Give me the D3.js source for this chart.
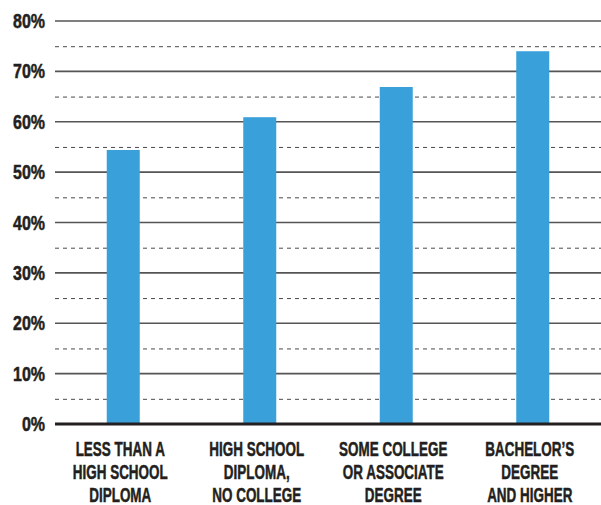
<!DOCTYPE html>
<html>
<head>
<meta charset="utf-8">
<script src="https://cdn.jsdelivr.net/npm/d3@7"></script>
<style>
  html, body { margin: 0; padding: 0; background: #fff; }
  svg { display: block; }
  .lbl { font-family: "Liberation Sans", Arial, sans-serif; font-weight: bold; fill: #231f20; stroke: #231f20; stroke-width: 0.5px; }
</style>
</head>
<body>
<svg id="chart" width="601" height="505"></svg>
<script>
// Share by education level
const categories = [
  ["LESS THAN A", "HIGH SCHOOL", "DIPLOMA"],
  ["HIGH SCHOOL", "DIPLOMA,", "NO COLLEGE"],
  ["SOME COLLEGE", "OR ASSOCIATE", "DEGREE"],
  ["BACHELOR\u2019S", "DEGREE", "AND HIGHER"]
];
const values = [54.4, 60.9, 66.9, 74.0];
const majorTicks = [0, 10, 20, 30, 40, 50, 60, 70, 80];
const minorTicks = [5, 15, 25, 35, 45, 55, 65, 75];

const svg = d3.select("#chart");
const plotLeft = 55, plotRight = 601, plotTop = 21, plotBottom = 424;

const x = d3.scaleBand().domain(d3.range(categories.length)).range([plotLeft, plotRight]).padding(0);
const y = d3.scaleLinear().domain([0, 80]).range([plotBottom, plotTop]);
const barW = 33;

// dashed half-step lines
svg.append("g").selectAll("line").data(minorTicks).join("line")
  .attr("x1", plotLeft).attr("x2", plotRight)
  .attr("y1", d => y(d) + 0.5).attr("y2", d => y(d) + 0.5)
  .attr("stroke", "#4a4a4a").attr("stroke-width", 1)
  .attr("stroke-dasharray", "4,4");

// solid major lines
svg.append("g").selectAll("line").data(majorTicks.filter(d => d > 0)).join("line")
  .attr("x1", plotLeft).attr("x2", plotRight)
  .attr("y1", d => y(d)).attr("y2", d => y(d))
  .attr("stroke", "#555").attr("stroke-width", 1.6);

// bars
svg.append("g").selectAll("rect").data(values).join("rect")
  .attr("x", (d, i) => x(i) + x.bandwidth() / 2 - barW / 2)
  .attr("width", barW)
  .attr("y", d => y(d))
  .attr("height", d => y(0) - y(d))
  .attr("fill", "#3aa0da");

// baseline
svg.append("line")
  .attr("x1", plotLeft).attr("x2", plotRight)
  .attr("y1", y(0)).attr("y2", y(0))
  .attr("stroke", "#231f20").attr("stroke-width", 3);

// y labels, set in a condensed style
svg.append("g").selectAll("text").data(majorTicks).join("text")
  .attr("class", "lbl")
  .attr("text-anchor", "end")
  .style("font-size", "19.5px")
  .attr("transform", d => `translate(${plotLeft - 10},${y(d)}) scale(0.82,1)`)
  .attr("dy", "0.36em")
  .text(d => d + "%");

// category labels, set in a condensed style
const cg = svg.append("g").selectAll("text").data(categories).join("text")
  .attr("class", "lbl")
  .attr("text-anchor", "middle")
  .style("font-size", "19.5px")
  .attr("transform", (d, i) => `translate(${x(i) + x.bandwidth() / 2 - 3},456) scale(0.69,1)`);
cg.selectAll("tspan").data(d => d).join("tspan")
  .attr("x", 0)
  .attr("dy", (d, i) => i === 0 ? 0 : 23)
  .text(d => d);
</script>
</body>
</html>
